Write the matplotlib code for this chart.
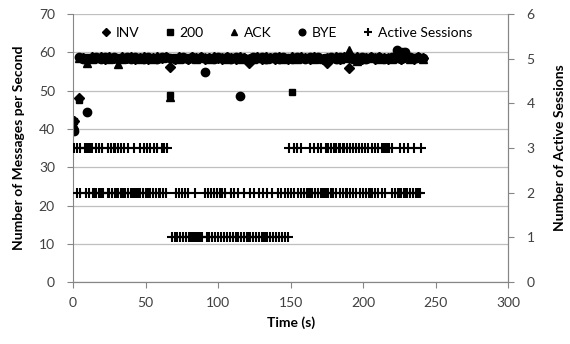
import matplotlib
matplotlib.use("Agg")
import matplotlib.pyplot as plt

plt.rcParams['font.family'] = ['Lato', 'DejaVu Sans']

# message rates, sampled every 3 s
t_msg = list(range(1, 242, 3))
inv = [42.0, 48.0, 58.6, 58.4, 58.9, 58.5, 58.7, 58.3, 58.8, 58.6, 58.4, 58.9, 58.5, 58.7,
       58.3, 58.6, 58.8, 58.4, 58.6, 58.9, 58.5, 58.7, 56.3, 58.4, 58.8, 58.6, 58.3, 58.7,
       58.5, 58.9, 58.4, 58.6, 58.8, 58.5, 58.3, 58.7, 58.6, 58.4, 58.9, 58.5, 57.2, 58.6,
       58.8, 58.4, 58.7, 58.5, 58.3, 58.9, 58.6, 58.4, 58.7, 58.5, 58.8, 58.6, 58.4, 58.7,
       58.5, 58.3, 57.3, 58.6, 58.8, 58.4, 58.7, 56.0, 58.5, 58.9, 58.3, 58.6, 58.8, 58.4,
       58.7, 58.5, 58.2, 58.6, 58.9, 58.3, 58.7, 58.5, 58.4, 58.8, 58.6]
ok200 = [42.0, 47.5, 58.3, 58.7, 58.5, 58.9, 58.4, 58.6, 58.8, 58.3, 58.7, 58.5, 58.9, 58.4,
         58.6, 58.8, 58.3, 58.7, 58.5, 58.4, 58.9, 58.6, 48.8, 58.7, 58.5, 58.3, 58.8, 58.4,
         58.6, 58.9, 58.5, 58.7, 58.3, 58.6, 58.8, 58.4, 58.7, 58.5, 58.9, 58.3, 58.6, 58.8,
         58.4, 58.7, 58.5, 58.9, 58.3, 58.6, 58.8, 58.4, 49.7, 58.7, 58.5, 58.9, 58.3, 58.6,
         58.8, 58.4, 58.7, 58.5, 58.3, 58.9, 58.6, 58.4, 58.8, 58.5, 58.7, 58.3, 58.9, 58.6,
         58.4, 58.7, 58.5, 58.8, 58.2, 60.3, 58.6, 58.9, 58.4, 58.7, 58.5]
ack = [41.0, 58.5, 58.8, 57.2, 58.4, 58.7, 58.5, 58.9, 58.3, 58.6, 57.0, 58.4, 58.8, 58.5,
       58.7, 58.3, 58.9, 58.6, 58.4, 58.7, 58.5, 58.8, 48.3, 58.6, 58.4, 58.9, 58.5, 58.7,
       58.3, 58.6, 58.8, 58.4, 58.7, 58.5, 58.9, 58.3, 58.6, 58.8, 58.4, 58.7, 58.5, 58.3,
       58.9, 58.6, 58.4, 58.8, 58.5, 58.7, 58.3, 58.6, 58.9, 58.4, 58.7, 58.5, 58.8, 58.3,
       58.6, 58.4, 58.9, 58.7, 58.5, 58.3, 58.8, 60.5, 58.6, 57.8, 58.4, 58.7, 58.5, 58.9,
       58.3, 58.6, 58.8, 58.4, 58.7, 58.5, 58.9, 58.3, 58.6, 58.8, 58.4]
bye = [39.5, 58.7, 58.4, 44.5, 58.6, 58.9, 58.3, 58.7, 58.5, 58.8, 58.4, 58.6, 58.9, 58.3,
       58.7, 58.5, 58.4, 58.8, 58.6, 58.3, 58.7, 58.9, 58.5, 58.4, 58.6, 58.8, 58.3, 58.7,
       58.5, 58.9, 55.0, 58.6, 58.4, 58.8, 58.5, 58.7, 58.3, 58.9, 48.7, 58.6, 58.4, 58.7,
       58.5, 58.8, 58.3, 58.6, 58.9, 58.4, 58.7, 58.5, 58.3, 58.8, 58.6, 58.4, 58.9, 58.5,
       58.7, 58.3, 58.6, 58.8, 58.4, 58.7, 58.5, 58.9, 58.3, 58.6, 58.8, 58.4, 58.7, 58.5,
       58.9, 58.3, 58.6, 58.8, 60.5, 58.4, 60.2, 58.7, 58.5, 58.9, 58.6]

# active sessions: times at which each level was recorded
t_s3 = [1, 3, 5, 8, 9, 10, 11, 12, 13, 16, 18, 20, 24, 26, 28, 29, 31, 33, 35, 38, 42,
        46, 49, 51, 53, 56, 58, 61, 63, 65,
        149, 152, 154, 157, 163, 166, 169, 171, 174, 176, 178, 180, 181, 183, 184, 186,
        187, 189, 191, 193, 195, 197, 199, 201, 203, 206, 208, 210, 213, 214, 215, 216,
        218, 220, 225, 228, 231, 235, 240]
t_s2 = [3, 5, 9, 11, 14, 15, 16, 18, 19, 21, 24, 25, 27, 29, 30, 31, 33, 34, 35, 36, 38,
        40, 41, 42, 43, 44, 45, 46, 48, 50, 52, 53, 55, 57, 59, 60, 62, 64, 71, 73, 75,
        77, 79, 84,
        91, 93, 95, 97, 99, 101, 103, 105, 109, 111, 114, 118, 122, 125, 128, 131, 134,
        137, 141, 143, 146, 148, 150, 152, 155, 157, 159, 161, 162, 163, 164, 165, 167,
        169, 171, 172, 173, 174, 176, 178, 179, 181, 184, 186, 188, 189, 191, 193, 195,
        198, 200, 202, 204, 205, 206, 208, 210, 213, 215, 220, 222, 224, 225, 226, 228,
        229, 230, 232, 234, 236, 237, 238, 239]
t_s1 = [68, 70, 72, 74, 76, 78, 80, 81, 82, 83, 84, 85, 86, 87, 88, 89, 92, 94, 96, 98,
        100, 102, 104, 106, 108, 110, 112, 113, 114, 116, 118, 120, 121, 122, 124, 126,
        128, 130, 131, 132, 134, 136, 138, 140, 142, 144, 146, 148]

t_sess = t_s3 + t_s2 + t_s1
sess = [3] * len(t_s3) + [2] * len(t_s2) + [1] * len(t_s1)

fig, ax = plt.subplots(figsize=(5.7, 3.44), dpi=100)
fig.subplots_adjust(left=0.128, right=0.892, top=0.959, bottom=0.18)
ax2 = ax.twinx()

grey = '#868686'
ax.plot(t_msg, inv, 'D', color='black', ms=5, label='INV')
ax.plot(t_msg, ok200, 's', color='black', ms=5, label='200')
ax.plot(t_msg, ack, '^', color='black', ms=6, label='ACK')
ax.plot(t_msg, bye, 'o', color='black', ms=6, label='BYE')
ax2.plot(t_sess, sess, '+', color='black', ms=7, mew=1.5, label='Active Sessions')

ax.set_xlim(0, 300)
ax.set_ylim(0, 70)
ax2.set_ylim(0, 6)
ax.set_xticks(range(0, 301, 50))
ax.set_yticks(range(0, 71, 10))
ax2.set_yticks(range(0, 7))

ax.yaxis.grid(True, color='#bfbfbf', lw=0.9)
ax.set_axisbelow(True)
for a in (ax, ax2):
    a.spines['top'].set_visible(False)
    for s in ('left', 'right', 'bottom'):
        a.spines[s].set_color(grey)
    a.tick_params(colors='#404040', labelsize=10, length=4, color=grey)
ax2.spines['left'].set_visible(False)
ax.tick_params(axis='y', pad=9)
ax.tick_params(axis='x', pad=7)
ax2.tick_params(axis='y', pad=9)

ax.set_xlabel('Time (s)', fontsize=10, fontweight='bold', labelpad=5)
ax.set_ylabel('Number of Messages per Second', fontsize=10, fontweight='bold', labelpad=10)
ax2.set_ylabel('Number of Active Sessions', fontsize=10, fontweight='bold', labelpad=14)

h1, l1 = ax.get_legend_handles_labels()
h2, l2 = ax2.get_legend_handles_labels()
leg = ax2.legend(h1 + h2, l1 + l2, loc='center', bbox_to_anchor=(0.49, 0.929), ncol=5,
                 frameon=False, fontsize=10, handlelength=0.8, handletextpad=0.3,
                 columnspacing=1.8, markerscale=0.8)

fig.savefig('out.png')
